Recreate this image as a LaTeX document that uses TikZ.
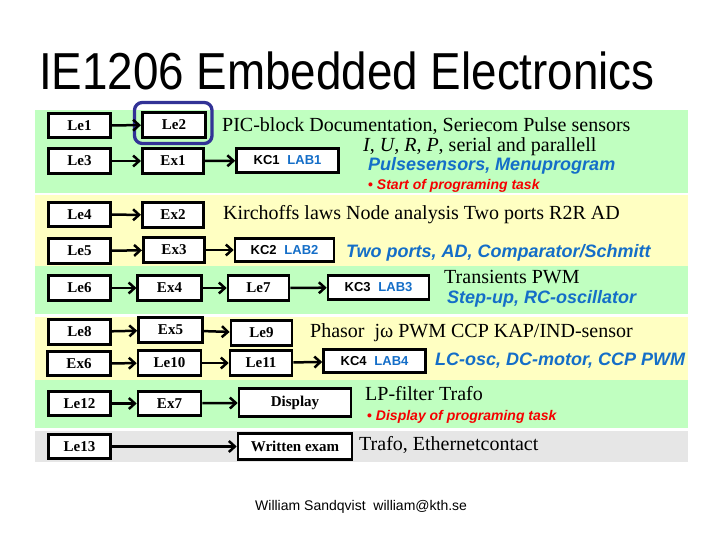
\documentclass[tikz,border=0pt]{standalone}
\usepackage{fontspec}
\setmainfont{Liberation Serif}
\setsansfont{Liberation Sans}
\newfontfamily\titlefont[FakeStretch=0.88]{Liberation Sans}
\usetikzlibrary{arrows.meta,fit}
\definecolor{bandgreen}{RGB}{192,255,192}
\definecolor{bandyellow}{RGB}{255,255,194}
\definecolor{bandgray}{RGB}{230,230,230}
\definecolor{labblue}{RGB}{20,110,200}
\definecolor{taskred}{RGB}{245,0,0}
\definecolor{ringblue}{RGB}{50,50,150}

\begin{document}
\begin{tikzpicture}[x=1pt,y=-1pt]
\tikzset{
  basic/.style = {draw, line width=2.6pt, fill=white, rectangle, inner sep=0pt},
  box/.style   = {basic, minimum width=#1, minimum height=24.5pt,
                  font=\fontsize{15}{18}\selectfont\bfseries},
  kc/.style    = {basic, minimum width=#1, minimum height=23.5pt,
                  font=\fontsize{13}{16}\selectfont\sffamily\bfseries},
  desc/.style  = {anchor=base west, inner sep=0pt, font=\fontsize{20}{24}\selectfont},
  lab/.style   = {desc, text=labblue, font=\fontsize{18}{22}\selectfont\sffamily\bfseries\itshape},
  task/.style  = {desc, text=taskred, font=\fontsize{14}{17}\selectfont\sffamily\bfseries\itshape},
  flow/.style  = {->, line width=2.5pt},
  >={Straight Barb[length=6pt,width=11pt]}
}
\useasboundingbox (0,0) rectangle (720,540);

% colour bands, one per block of the course
\fill[bandgreen]  (35,110) rectangle (688,193);
\fill[bandyellow] (35,195) rectangle (688,266);
\fill[bandgreen]  (35,266) rectangle (688,314);
\fill[bandyellow] (35,317) rectangle (688,380);
\fill[bandgreen]  (35,380) rectangle (688,428);
\fill[bandgray]   (35,431) rectangle (688,462);

\node (title) [anchor=base, font=\titlefont\fontsize{52}{60}\selectfont] at (347,90)
  {IE1206 Embedded Electronics};

% block 1
\node[box=62.5] (le1) at (79.5,125.5) {Le1};
\node[box=63.5] (le2) at (174,125) {Le2};
\node[box=62.5] (le3) at (79.5,161) {Le3};
\node[box=61.5] (ex1) at (173,161) {Ex1};
\node[kc=102] (kc1) at (287.5,160.5) {KC1\hspace{0.6em}\textcolor{labblue}{LAB1}};
\node (ring) [fit=(le2), draw=ringblue, line width=3.3pt, rounded corners=8pt,
  inner xsep=5.75pt, inner ysep=7pt, xshift=-0.75pt, yshift=2pt] {};
\node[desc] (t1) at (222,132) {PIC-block Documentation, Seriecom Pulse sensors};
\node[desc] (t2) at (363,152) {\textit{I}, \textit{U}, \textit{R}, \textit{P}, serial and parallell};
\node[lab]  (t3) at (368,171) {Pulsesensors, Menuprogram};
\node[task] (t4) at (368,190) {\textup{•} Start of programing task};

% block 2
\node[box=62.5] (le4) at (79.5,214.5) {Le4};
\node[box=61.5] (ex2) at (173,215) {Ex2};
\node[box=62.5] (le5) at (79.5,251) {Le5};
\node[box=61.5] (ex3) at (174,250) {Ex3};
\node[kc=99] (kc2) at (284.5,250) {KC2\hspace{0.6em}\textcolor{labblue}{LAB2}};
\node[desc] (t5) at (223,220) {Kirchoffs laws Node analysis Two ports R2R AD};
\node[lab]  (t6) at (346,257) {Two ports, AD, Comparator/Schmitt};

% block 3
\node[box=62.5] (le6) at (79.5,288) {Le6};
\node[box=63.5] (ex4) at (169.5,288) {Ex4};
\node[box=61] (le7) at (258.5,288) {Le7};
\node[kc=101] (kc3) at (378.5,287.5) {KC3\hspace{0.6em}\textcolor{labblue}{LAB3}};
\node[desc] (t7) at (444,283) {Transients PWM};
\node[lab]  (t8) at (447,303) {Step-up, RC-oscillator};

% block 4
\node[box=62.5] (le8) at (79.5,332) {Le8};
\node[box=64] (ex5) at (170.5,330) {Ex5};
\node[box=61] (le9) at (261.5,333) {Le9};
\node[box=63] (ex6) at (79,363.5) {Ex6};
\node[box=63] (le10) at (169.5,363) {Le10};
\node[box=62] (le11) at (261,363) {Le11};
\node[kc=102] (kc4) at (374.5,361) {KC4\hspace{0.6em}\textcolor{labblue}{LAB4}};
\node[desc] (t9) at (310,337) {Phasor\ \ jω PWM CCP KAP/IND-sensor};
\node[lab]  (t10) at (435,365) {LC-osc, DC-motor, CCP PWM};

% block 5
\node[box=62.5] (le12) at (79.5,403.5) {Le12};
\node[box=63] (ex7) at (169.5,403.5) {Ex7};
\node[box=112, minimum height=28.5pt] (display) at (295,402.5) {Display};
\node[desc] (t11) at (365,400) {LP-filter Trafo};
\node[task] (t12) at (367,420) {\textup{•} Display of programing task};

% block 6
\node[box=62.5] (le13) at (79.5,446.5) {Le13};
\node[box=114, minimum height=26.5pt] (written) at (295,446.5) {Written exam};
\node[desc] (t13) at (359,450) {Trafo, Ethernetcontact};

\node (footer) [anchor=base west, inner sep=0pt, font=\sffamily\fontsize{14}{17}\selectfont]
  at (255,510) {William Sandqvist\ \ william@kth.se};

% flow between the steps
\draw[flow] (le1) -- (le2);
\draw[flow] (le3) -- (ex1);
\draw[flow] (ex1) -- (kc1);
\draw[flow] (le4) -- (ex2);
\draw[flow] (le5) -- (ex3);
\draw[flow] (ex3) -- (kc2);
\draw[flow] (le6) -- (ex4);
\draw[flow] (ex4) -- (le7);
\draw[flow] (le7) -- (kc3);
\draw[flow] (le8) -- (ex5);
\draw[flow] (ex5) -- (le9);
\draw[flow] (ex6) -- (le10);
\draw[flow] (le10) -- (le11);
\draw[flow] (le11) -- (kc4);
\draw[flow] (le12) -- (ex7);
\draw[flow] (ex7) -- (display);
\draw[flow] (le13) -- (written);
\end{tikzpicture}
\end{document}
